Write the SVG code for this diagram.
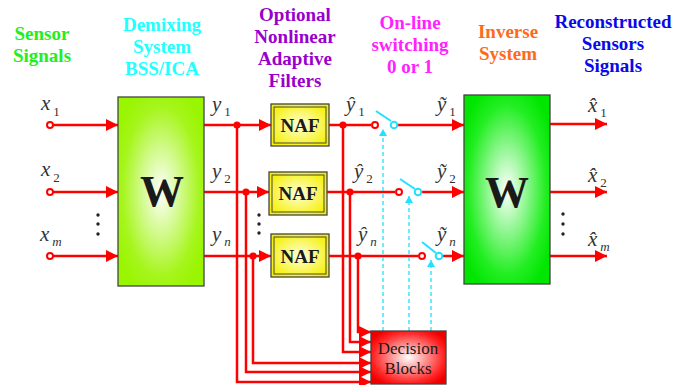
<svg xmlns="http://www.w3.org/2000/svg" width="676" height="385" viewBox="0 0 676 385" font-family="Liberation Serif, DejaVu Serif, Times New Roman, serif">
<style>
.hdr{font-weight:bold;font-size:19px;text-anchor:middle}
.var{font-style:italic;font-size:21px;fill:#333}
.sub{font-size:13px;fill:#333;font-style:normal}
.subi{font-style:italic;font-size:13px;fill:#333}
.w{font-weight:bold;font-size:44px;fill:#1a1a1a;text-anchor:middle}
.naf{font-weight:bold;font-size:19px;fill:#1a1a1a;text-anchor:middle}
.dec{font-size:17px;fill:#1a1a1a;text-anchor:middle}
.ln{fill:none;stroke:#ff0000;stroke-width:2.5}
.arr{fill:none;stroke:#ff0000;stroke-width:2.5;marker-end:url(#ah)}
.cy{fill:none;stroke:#22e0ff;stroke-width:1.3;stroke-dasharray:4 3;marker-end:url(#ahc)}
.dot{fill:#ff0000}
.oc{fill:#fff;stroke:#ff0000;stroke-width:2}
.cc{fill:#fff;stroke:#22e0ff;stroke-width:2}
.lev{stroke:#22e0ff;stroke-width:2;fill:none}
.bx{stroke:#444;stroke-width:1.3}
.pt{fill:#222}
</style>
<defs>
<marker id="ah" markerUnits="userSpaceOnUse" markerWidth="14" markerHeight="12" refX="12" refY="6" orient="auto">
<path d="M0,0 L12,6 L0,12 Z" fill="#ff0000"/>
</marker>
<marker id="ahc" markerUnits="userSpaceOnUse" markerWidth="8" markerHeight="8" refX="7" refY="4" orient="auto">
<path d="M0,0 L7,4 L0,8 Z" fill="#22e0ff"/>
</marker>
<radialGradient id="gW1" cx="50%" cy="50%" r="60%">
<stop offset="0" stop-color="#ffffff"/>
<stop offset="0.75" stop-color="#a6f51c"/>
<stop offset="1" stop-color="#99f500"/>
</radialGradient>
<radialGradient id="gW2" cx="50%" cy="50%" r="60%">
<stop offset="0" stop-color="#ffffff"/>
<stop offset="0.75" stop-color="#22ee22"/>
<stop offset="1" stop-color="#00e600"/>
</radialGradient>
<radialGradient id="gN" cx="50%" cy="50%" r="60%">
<stop offset="0" stop-color="#ffffdd"/>
<stop offset="1" stop-color="#f5f000"/>
</radialGradient>
<radialGradient id="gD" cx="50%" cy="50%" r="60%">
<stop offset="0" stop-color="#ffffff"/>
<stop offset="0.8" stop-color="#ff2222"/>
<stop offset="1" stop-color="#ee0000"/>
</radialGradient>
</defs>

<g id="headers">
<text class="hdr" fill="#22ee22"><tspan x="42" y="40">Sensor</tspan><tspan x="42" y="62">Signals</tspan></text>
<text class="hdr" fill="#22ffff"><tspan x="162" y="31">Demixing</tspan><tspan x="162" y="53">System</tspan><tspan x="162" y="75">BSS/ICA</tspan></text>
<text class="hdr" fill="#9900cc"><tspan x="295" y="21">Optional</tspan><tspan x="295" y="43">Nonlinear</tspan><tspan x="295" y="65">Adaptive</tspan><tspan x="295" y="87">Filters</tspan></text>
<text class="hdr" fill="#ff22ff"><tspan x="410" y="29">On-line</tspan><tspan x="410" y="51">switching</tspan><tspan x="410" y="73">0 or 1</tspan></text>
<text class="hdr" fill="#ff6a1a"><tspan x="508" y="38">Inverse</tspan><tspan x="508" y="60">System</tspan></text>
<text class="hdr" fill="#0a0ae6"><tspan x="613" y="28">Reconstructed</tspan><tspan x="613" y="50">Sensors</tspan><tspan x="613" y="72">Signals</tspan></text>
</g>

<g id="connectors">
<path class="arr" d="M53,125 H118"/>
<path class="arr" d="M53,192 H118"/>
<path class="arr" d="M53,256 H118"/>
<path class="arr" d="M204,125 H271"/>
<path class="arr" d="M204,192 H269"/>
<path class="arr" d="M204,256 H271"/>
<path class="arr" d="M237,125 V382 H371"/>
<path class="arr" d="M246,192 V372 H371"/>
<path class="arr" d="M253,256 V363 H371"/>
<path class="ln" d="M329,125 H371"/>
<path class="ln" d="M327,192 H395"/>
<path class="ln" d="M329,256 H418"/>
<path class="arr" d="M343,125 V352 H371"/>
<path class="arr" d="M350,192 V342 H371"/>
<path class="arr" d="M358,256 V332 H371"/>
<path class="arr" d="M398,125 H464"/>
<path class="arr" d="M422,192 H464"/>
<path class="arr" d="M443,256 H464"/>
<path class="arr" d="M550,124 H607"/>
<path class="arr" d="M550,192 H607"/>
<path class="arr" d="M550,256 H607"/>
<path class="cy" d="M383,331 V129"/>
<path class="cy" d="M409,331 V196"/>
<path class="cy" d="M431,331 V260"/>
<circle class="dot" cx="237" cy="125" r="3.6"/>
<circle class="dot" cx="246" cy="192" r="3.6"/>
<circle class="dot" cx="253" cy="256" r="3.6"/>
<circle class="dot" cx="343" cy="125" r="3.6"/>
<circle class="dot" cx="350" cy="192" r="3.6"/>
<circle class="dot" cx="358" cy="256" r="3.6"/>
<circle class="oc" cx="50" cy="125" r="3"/>
<circle class="oc" cx="50" cy="192" r="3"/>
<circle class="oc" cx="50" cy="256" r="3"/>
</g>

<g id="switch1">
<line class="lev" x1="376" y1="111" x2="391" y2="121"/>
<circle class="oc" cx="375" cy="125" r="3"/>
<circle class="cc" cx="394" cy="125" r="3.3"/>
</g>
<g id="switch2">
<line class="lev" x1="400" y1="179" x2="415" y2="189"/>
<circle class="oc" cx="399" cy="192" r="3"/>
<circle class="cc" cx="418" cy="192" r="3.3"/>
</g>
<g id="switchn">
<line class="lev" x1="422" y1="242" x2="436" y2="253"/>
<circle class="oc" cx="422" cy="256" r="3"/>
<circle class="cc" cx="439" cy="256" r="3.3"/>
</g>

<g id="W1">
<rect class="bx" x="118" y="97" width="86" height="189" fill="url(#gW1)"/>
<text class="w" x="162" y="206">W</text>
</g>
<g id="W2">
<rect class="bx" x="464" y="95" width="86" height="189" fill="url(#gW2)"/>
<text class="w" x="507" y="207">W</text>
</g>

<g id="NAF1">
<rect class="bx" x="271" y="104" width="58" height="42" fill="url(#gN)"/>
<rect x="274" y="107" width="52" height="36" fill="none" stroke="#444" stroke-width="1"/>
<text class="naf" x="300" y="132">NAF</text>
</g>
<g id="NAF2">
<rect class="bx" x="269" y="172" width="58" height="43" fill="url(#gN)"/>
<rect x="272" y="175" width="52" height="37" fill="none" stroke="#444" stroke-width="1"/>
<text class="naf" x="298" y="200">NAF</text>
</g>
<g id="NAF3">
<rect class="bx" x="271" y="234" width="58" height="43" fill="url(#gN)"/>
<rect x="274" y="237" width="52" height="37" fill="none" stroke="#444" stroke-width="1"/>
<text class="naf" x="300" y="263">NAF</text>
</g>

<g id="decision">
<rect class="bx" x="371" y="331" width="75" height="53" fill="url(#gD)"/>
<text class="dec"><tspan x="408" y="354">Decision</tspan><tspan x="408" y="374">Blocks</tspan></text>
</g>

<g id="labels">
<text class="var" x="41" y="110">x<tspan class="sub" dx="3" dy="6">1</tspan></text>
<text class="var" x="41" y="176">x<tspan class="sub" dx="3" dy="6">2</tspan></text>
<text class="var" x="40" y="241">x<tspan class="subi" dx="3" dy="5">m</tspan></text>

<text class="var" x="212" y="111">y<tspan class="sub" dx="3" dy="5">1</tspan></text>
<text class="var" x="212" y="178">y<tspan class="sub" dx="3" dy="5">2</tspan></text>
<text class="var" x="212" y="241">y<tspan class="subi" dx="3" dy="5">n</tspan></text>

<text class="var" x="346" y="111">ŷ<tspan class="sub" dx="3" dy="5">1</tspan></text>
<text class="var" x="354" y="178">ŷ<tspan class="sub" dx="3" dy="5">2</tspan></text>
<text class="var" x="358" y="241">ŷ<tspan class="subi" dx="3" dy="5">n</tspan></text>

<text class="var" x="437" y="111">ỹ<tspan class="sub" dx="3" dy="5">1</tspan></text>
<text class="var" x="437" y="178">ỹ<tspan class="sub" dx="3" dy="5">2</tspan></text>
<text class="var" x="437" y="241">ỹ<tspan class="subi" dx="3" dy="5">n</tspan></text>

<text class="var" x="588" y="112">x̂<tspan class="sub" dx="3" dy="5">1</tspan></text>
<text class="var" x="588" y="182">x̂<tspan class="sub" dx="3" dy="5">2</tspan></text>
<text class="var" x="588" y="246">x̂<tspan class="subi" dx="3" dy="5">m</tspan></text>
</g>

<g id="ellipsis">
<circle class="pt" cx="98" cy="215" r="1.7"/><circle class="pt" cx="98" cy="224" r="1.7"/><circle class="pt" cx="98" cy="234" r="1.7"/>
<circle class="pt" cx="259" cy="215" r="1.7"/><circle class="pt" cx="259" cy="224" r="1.7"/><circle class="pt" cx="259" cy="233" r="1.7"/>
<circle class="pt" cx="563" cy="214" r="1.7"/><circle class="pt" cx="563" cy="224" r="1.7"/><circle class="pt" cx="563" cy="234" r="1.7"/>
</g>
</svg>
